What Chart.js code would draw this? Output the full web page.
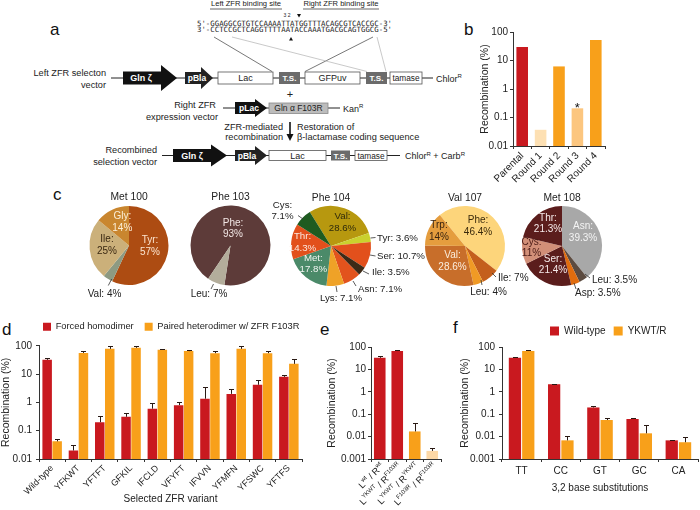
<!DOCTYPE html>
<html>
<head>
<meta charset="utf-8">
<script src="https://cdn.jsdelivr.net/npm/chart.js@4.4.1/dist/chart.umd.min.js"></script>
<style>
html,body{margin:0;padding:0;background:#fff;}
#root{position:relative;width:700px;height:510px;overflow:hidden;background:#fff;}
#root canvas{position:absolute;}
#schem{position:absolute;left:0;top:0;}
</style>
</head>
<body>
<div id="root">
<svg id="schem" width="700" height="510" font-family="'Liberation Sans', Arial, Helvetica, sans-serif">
  <g font-size="17" fill="#111">
    <text x="50" y="35">a</text><text x="464" y="35">b</text><text x="53" y="200">c</text>
    <text x="2" y="335">d</text><text x="320" y="335">e</text><text x="453" y="333">f</text>
  </g>
  <!-- binding sites -->
  <g font-size="7.6" fill="#222" text-anchor="middle">
    <text x="246" y="6">Left ZFR binding site</text>
    <text x="341" y="6">Right ZFR binding site</text>
  </g>
  <line x1="210" y1="9" x2="282" y2="9" stroke="#9a9a9a" stroke-width="1.5"/>
  <line x1="303" y1="9" x2="379" y2="9" stroke="#9a9a9a" stroke-width="1.5"/>
  <text x="283.5" y="17" font-size="5" fill="#222">3 2</text>
  <polygon points="297,14 301,14 299,17.5" fill="#111"/>
  <g font-family="'DejaVu Sans Mono', monospace" font-size="7.3" fill="#222">
    <text x="197" y="25.5" textLength="195" lengthAdjust="spacingAndGlyphs">5'-GGAGGCGTGTCCAAAATTATGGTTTACAGCGTCACCGC-3'</text>
    <text x="197" y="32" textLength="195" lengthAdjust="spacingAndGlyphs">3'-CCTCCGCTCAGGTTTTAATACCAAATGACGCAGTGGCG-5'</text>
  </g>
  <polygon points="289,40.5 293,40.5 291,37" fill="#111"/>
  <line x1="214" y1="37" x2="272" y2="71.5" stroke="#555" stroke-width="0.8"/>
  <line x1="373" y1="37" x2="305" y2="71.5" stroke="#555" stroke-width="0.8"/>
  <line x1="232" y1="37" x2="367" y2="71.5" stroke="#bbb" stroke-width="0.8"/>
  <line x1="377" y1="37" x2="386" y2="71.5" stroke="#bbb" stroke-width="0.8"/>

  <!-- vector 1 -->
  <g font-size="9.2" fill="#222">
    <text x="106" y="76.3" text-anchor="end">Left ZFR selecton</text>
    <text x="106" y="87.5" text-anchor="end">vector</text>
  </g>
  <line x1="111" y1="78" x2="433" y2="78" stroke="#222" stroke-width="1"/>
  <polygon points="123,71.5 161,71.5 161,65 177,78 161,91 161,84.5 123,84.5" fill="#111"/>
  <polygon points="185,72 201,72 201,67 213,78 201,89 201,84 185,84" fill="#222"/>
  <rect x="218" y="72" width="55" height="12" fill="#fff" stroke="#555" stroke-width="0.8"/>
  <rect x="279" y="72" width="21" height="12" fill="#6b6b6b"/>
  <rect x="305" y="72" width="55" height="12" fill="#fff" stroke="#555" stroke-width="0.8"/>
  <rect x="366" y="72" width="21" height="12" fill="#6b6b6b"/>
  <rect x="390" y="72" width="32" height="12" fill="#fff" stroke="#555" stroke-width="0.8"/>
  <g text-anchor="middle" font-size="9">
    <text x="141" y="81.3" fill="#fff" font-weight="bold">Gln ζ</text>
    <text x="197" y="81.3" fill="#fff" font-weight="bold" font-size="8.5">pBla</text>
    <text x="245.5" y="81.3" fill="#222">Lac</text>
    <text x="289.5" y="81" fill="#fff" font-weight="bold" font-size="8">T.S.</text>
    <text x="332.5" y="81.3" fill="#222">GFPuv</text>
    <text x="376.5" y="81" fill="#fff" font-weight="bold" font-size="8">T.S.</text>
    <text x="406" y="81" fill="#222" font-size="8.3">tamase</text>
  </g>
  <text x="436" y="81.5" font-size="9" fill="#222">Chlor<tspan font-size="6" dy="-3.5">R</tspan></text>
  <text x="290" y="98" font-size="11" fill="#222" text-anchor="middle">+</text>

  <!-- vector 2 -->
  <g font-size="9.2" fill="#222" text-anchor="end">
    <text x="216" y="107.5">Right ZFR</text>
    <text x="218" y="119.5">expression vector</text>
  </g>
  <line x1="223" y1="108" x2="340" y2="108" stroke="#222" stroke-width="1"/>
  <polygon points="235,102 255,102 255,99 267,108 255,117 255,114 235,114" fill="#111"/>
  <rect x="269" y="103" width="59" height="10.5" fill="#bcbcbc" stroke="#888" stroke-width="0.8"/>
  <text x="249" y="111.2" fill="#fff" font-weight="bold" font-size="8.5" text-anchor="middle">pLac</text>
  <text x="298.5" y="111.3" fill="#222" font-size="8.5" text-anchor="middle">Gln α F103R</text>
  <text x="343" y="111.5" font-size="9" fill="#222">Kan<tspan font-size="6" dy="-3.5">R</tspan></text>

  <!-- arrow -->
  <line x1="290" y1="122" x2="290" y2="135" stroke="#111" stroke-width="1.6"/>
  <polygon points="286.5,134 293.5,134 290,141" fill="#111"/>
  <g font-size="9.2" fill="#222">
    <text x="283" y="129.5" text-anchor="end">ZFR-mediated</text>
    <text x="283" y="139.5" text-anchor="end">recombination</text>
    <text x="297" y="129.5">Restoration of</text>
    <text x="297" y="139.5">β-lactamase coding sequence</text>
  </g>

  <!-- vector 3 -->
  <g font-size="9.2" fill="#222" text-anchor="end">
    <text x="157" y="153">Recombined</text>
    <text x="157" y="165">selection vector</text>
  </g>
  <line x1="162" y1="155.5" x2="400" y2="155.5" stroke="#222" stroke-width="1"/>
  <polygon points="173,149 211,149 211,144.5 227,155.5 211,166.5 211,162 173,162" fill="#111"/>
  <polygon points="235,150 255,150 255,146 267,155.5 255,165 255,161 235,161" fill="#222"/>
  <rect x="269" y="150.5" width="57" height="10" fill="#fff" stroke="#555" stroke-width="0.8"/>
  <rect x="331" y="150.5" width="19" height="10" fill="#6b6b6b"/>
  <rect x="355" y="150.5" width="32" height="10" fill="#fff" stroke="#555" stroke-width="0.8"/>
  <g text-anchor="middle" font-size="9">
    <text x="192" y="158.8" fill="#fff" font-weight="bold">Gln ζ</text>
    <text x="247" y="158.6" fill="#fff" font-weight="bold" font-size="8.5">pBla</text>
    <text x="297.5" y="158.8" fill="#222">Lac</text>
    <text x="340.5" y="158.5" fill="#fff" font-weight="bold" font-size="8">T.S.</text>
    <text x="371" y="158.5" fill="#222" font-size="8.3">tamase</text>
  </g>
  <text x="405" y="159" font-size="9" fill="#222">Chlor<tspan font-size="6" dy="-3.5">R</tspan><tspan dy="3.5"> + Carb</tspan><tspan font-size="6" dy="-3.5">R</tspan></text>
</svg>
</div>

<script>
// ---------------- DATA ----------------
// Panel b
const bCategories = ['Parental', 'Round 1', 'Round 2', 'Round 3', 'Round 4'];
const bValues = [30, 0.037, 6.2, 0.21, 52];
const bMarks = ['', '', '', '*', ''];

// Shared log tick values
const ticks4 = [0.01, 0.1, 1, 10, 100];
const ticks5 = [0.001, 0.01, 0.1, 1, 10, 100];

// Panel c (pie charts)
const met100Cats = ['Tyr', 'Val', 'Ile', 'Gly'];
const met100Vals = [57, 4, 25, 14];
const phe103Cats = ['Phe', 'Leu'];
const phe103Vals = [93, 7];
const phe104Cats = ['Val', 'Tyr', 'Ser', 'Ile', 'Asn', 'Lys', 'Met', 'Thr', 'Cys'];
const phe104Vals = [28.6, 3.6, 10.7, 3.5, 7.1, 7.1, 17.8, 14.3, 7.1];
const val107Cats = ['Phe', 'Ile', 'Leu', 'Val', 'Trp'];
const val107Vals = [46.4, 7, 4, 28.6, 14];
const met108Cats = ['Asn', 'Leu', 'Asp', 'Ser', 'Cys', 'Thr'];
const met108Vals = [39.3, 3.5, 3.5, 21.4, 11, 21.3];

// Panel d
const dVariants = ['Wild-type', 'YFKWT', 'YFTFT', 'GFKIL', 'IFCLD', 'VFYFT', 'IFVVN', 'YFMFN', 'YFSWC', 'YFTFS'];
const dHomodimer = [32, 0.02, 0.2, 0.31, 0.6, 0.8, 1.35, 2.0, 4.2, 8.0];
const dHomodimerErrTop = [37, 0.03, 0.32, 0.43, 0.95, 1.0, 3.5, 2.9, 6.3, 9.5];
const dHeterodimer = [0.042, 56, 78, 85, 72, 65, 55, 78, 55, 23];
const dHeterodimerErrTop = [0.05, 63, 100, 98, 75, 74, 65, 100, 65, 35];

// Panel e
const ePairs = ['L^wt / R^wt', 'L^YKWT / R^F103R', 'L^YKWT / R^YKWT', 'L^F103R / R^F103R'];
const eValues = [33, 66, 0.017, 0.0023];
const eErrTop = [38, 71, 0.039, 0.0031];

// Panel f
const fSubs = ['TT', 'CC', 'GT', 'GC', 'CA'];
const fWild = [33, 2.15, 0.2, 0.061, 0.0068];
const fWildErrTop = [35, 2.3, 0.23, 0.066, 0.007];
const fYKWT = [66, 0.0068, 0.055, 0.014, 0.0056];
const fYKWTErrTop = [74, 0.011, 0.066, 0.033, 0.0093];

// ---------------- STYLE ----------------
const FONT = '"Liberation Sans", Arial, Helvetica, sans-serif';
Chart.defaults.font.family = FONT;
Chart.defaults.color = '#222';
const RED = '#c9191f', ORANGE = '#f8a01a', LIGHT_OR = '#fcc67f', PALE_OR = '#fde0b3', PEACH = '#fdd8a6', AXIS = '#333';

function makeCanvas(left, top, w, h) {
  const c = document.createElement('canvas');
  c.width = w; c.height = h;
  c.style.left = left + 'px'; c.style.top = top + 'px';
  c.style.width = w + 'px'; c.style.height = h + 'px';
  document.getElementById('root').appendChild(c);
  return c;
}

// ---------------- PLUGINS ----------------
const errorBars = {
  id: 'errorBars',
  afterDatasetsDraw(chart) {
    const ctx = chart.ctx, ys = chart.scales.y;
    chart.data.datasets.forEach((ds, di) => {
      if (!ds.errTop) return;
      chart.getDatasetMeta(di).data.forEach((bar, i) => {
        const v = ds.errTop[i];
        if (v == null) return;
        const yt = Math.round(ys.getPixelForValue(v)) + 0.5;
        const x = Math.round(bar.x) + 0.5;
        ctx.save();
        ctx.strokeStyle = '#2a1a14'; ctx.lineWidth = 1;
        ctx.beginPath();
        ctx.moveTo(x, bar.y); ctx.lineTo(x, yt);
        ctx.moveTo(x - 2.5, yt); ctx.lineTo(x + 2.5, yt);
        ctx.stroke();
        ctx.restore();
      });
    });
  }
};

const barMarks = {
  id: 'barMarks',
  afterDatasetsDraw(chart, args, o) {
    if (!o || !o.marks) return;
    const ctx = chart.ctx;
    ctx.save();
    ctx.font = '13px ' + FONT; ctx.fillStyle = '#111'; ctx.textAlign = 'center'; ctx.textBaseline = 'alphabetic';
    chart.getDatasetMeta(0).data.forEach((bar, i) => {
      if (o.marks[i]) ctx.fillText(o.marks[i], bar.x, bar.y + 3.5);
    });
    ctx.restore();
  }
};

const legendShift = {
  id: 'legendShift',
  afterLayout(chart, args, o) {
    const lg = chart.legend;
    if (!lg || !o) return;
    lg.left += o.dx || 0; lg.right += o.dx || 0;
    lg.top += o.dy || 0; lg.bottom += o.dy || 0;
  }
};

function parseSup(s) {
  const out = []; const re = /\^([A-Za-z0-9]+)/g; let last = 0, m;
  while ((m = re.exec(s))) {
    if (m.index > last) out.push({ t: s.slice(last, m.index), sup: false });
    out.push({ t: m[1], sup: true });
    last = re.lastIndex;
  }
  if (last < s.length) out.push({ t: s.slice(last), sup: false });
  return out;
}

const supLabels = {
  id: 'supLabels',
  afterDraw(chart, args, o) {
    if (!o || !o.on) return;
    const xs = chart.scales.x, ctx = chart.ctx;
    chart.data.labels.forEach((lab, i) => {
      const px = xs.getPixelForTick(i);
      const parts = parseSup(lab);
      ctx.save();
      ctx.translate(px + o.dx, xs.top + o.dy);
      ctx.rotate(-Math.PI / 4);
      ctx.textBaseline = 'middle'; ctx.textAlign = 'left'; ctx.fillStyle = '#222';
      const nf = o.size + 'px ' + FONT, sf = o.supSize + 'px ' + FONT;
      let total = 0;
      parts.forEach(p => { ctx.font = p.sup ? sf : nf; p.w = ctx.measureText(p.t).width; total += p.w; });
      let cx = -total;
      parts.forEach(p => { ctx.font = p.sup ? sf : nf; ctx.fillText(p.t, cx, p.sup ? -3.4 : 0); cx += p.w; });
      ctx.restore();
    });
  }
};

const pieText = {
  id: 'pieText',
  afterDraw(chart, args, o) {
    const ctx = chart.ctx;
    const arc = chart.getDatasetMeta(0).data[0];
    const cx = arc.x, cy = arc.y;
    const cats = chart.data.labels, vals = chart.data.datasets[0].data;
    ctx.save();
    ctx.textBaseline = 'middle';
    ctx.font = '10.3px ' + FONT; ctx.fillStyle = '#222'; ctx.textAlign = 'center';
    ctx.fillText(o.title, cx, cy + o.titleDy);
    o.specs.forEach((s, i) => {
      const lines = s.split ? [cats[i] + ':', vals[i] + '%'] : [cats[i] + ': ' + vals[i] + '%'];
      ctx.font = o.fontSize + 'px ' + FONT;
      ctx.fillStyle = s.color || '#222';
      ctx.textAlign = s.align || 'center';
      lines.forEach((t, k) => ctx.fillText(t, cx + s.x, cy + s.y + k * (s.gap || 11.5)));
      if (s.lead) {
        ctx.strokeStyle = '#333'; ctx.lineWidth = 0.8;
        ctx.beginPath();
        ctx.moveTo(cx + s.lead[0], cy + s.lead[1]);
        ctx.lineTo(cx + s.lead[2], cy + s.lead[3]);
        ctx.stroke();
      }
    });
    ctx.restore();
  }
};

// ---------------- BAR CHART FACTORY ----------------
function logBar(canvas, g, labels, datasets, yTicks, pluginOpts) {
  return new Chart(canvas, {
    type: 'bar',
    data: { labels, datasets },
    options: {
      responsive: false, animation: false, events: [],
      layout: { padding: { left: 0, top: g.padTop, right: g.padRight, bottom: 0 } },
      plugins: Object.assign({ legend: { display: false }, tooltip: { enabled: false } }, pluginOpts || {}),
      scales: {
        x: {
          offset: true,
          grid: { display: true, drawOnChartArea: false, tickLength: 3, color: AXIS, offset: true },
          border: { display: true, color: AXIS, width: 1 },
          ticks: g.xTicks,
          title: g.xTitle || { display: false },
          afterFit: s => { s.height = g.xh; }
        },
        y: {
          type: 'logarithmic', min: yTicks[0], max: yTicks[yTicks.length - 1],
          grid: { display: true, drawOnChartArea: false, tickLength: 3, color: AXIS },
          border: { display: true, color: AXIS, width: 1 },
          afterBuildTicks: s => { s.ticks = yTicks.map(v => ({ value: v })); },
          ticks: { padding: g.yTickPad, font: { size: 10 }, color: '#222', callback: v => String(v) },
          title: { display: true, text: 'Recombination (%)', font: { size: 10.5 }, color: '#222', padding: { top: g.yTitlePad, bottom: 0 } },
          afterFit: s => { s.width = g.yw; }
        }
      }
    },
    plugins: [errorBars, barMarks, legendShift, supLabels]
  });
}

// ---------------- PANEL b ----------------
logBar(makeCanvas(476, 20, 224, 180),
  { padTop: 12, padRight: 95, xh: 54, yw: 37, yTickPad: 2, yTitlePad: 2.7,
    xTicks: { minRotation: 45, maxRotation: 45, autoSkip: false, padding: 1, font: { size: 10 }, color: '#222' } },
  bCategories,
  [{ data: bValues, backgroundColor: [RED, PALE_OR, ORANGE, LIGHT_OR, ORANGE], borderWidth: 0,
     barPercentage: 0.9, categoryPercentage: 0.7 }],
  ticks4, { barMarks: { marks: bMarks } });

// ---------------- PANEL d ----------------
logBar(makeCanvas(0, 315, 312, 195),
  { padTop: 0.5, padRight: 10, xh: 51, yw: 39, yTickPad: 4, yTitlePad: 0,
    xTicks: { minRotation: 45, maxRotation: 45, autoSkip: false, padding: 1, font: { size: 9 }, color: '#222' },
    xTitle: { display: true, text: 'Selected ZFR variant', font: { size: 10 }, color: '#222', padding: { top: 0, bottom: 5 } } },
  dVariants,
  [{ label: 'Forced homodimer', data: dHomodimer, errTop: dHomodimerErrTop, backgroundColor: RED, borderWidth: 0,
     barPercentage: 0.95, categoryPercentage: 0.76 },
   { label: 'Paired heterodimer w/ ZFR F103R', data: dHeterodimer, errTop: dHeterodimerErrTop, backgroundColor: ORANGE, borderWidth: 0,
     barPercentage: 0.95, categoryPercentage: 0.76 }],
  ticks4,
  { legend: { display: true, position: 'top', align: 'start',
      labels: { boxWidth: 8, boxHeight: 8, padding: 11, font: { size: 9.3 }, color: '#222' } },
    legendShift: { dx: 32, dy: -4.5 } });

// ---------------- PANEL e ----------------
logBar(makeCanvas(318, 315, 130, 195),
  { padTop: 32, padRight: 7, xh: 51, yw: 53, yTickPad: 2, yTitlePad: 7.7,
    xTicks: { display: false } },
  ePairs,
  [{ data: eValues, errTop: eErrTop, backgroundColor: [RED, RED, ORANGE, PEACH], borderWidth: 0,
     barPercentage: 0.92, categoryPercentage: 0.72 }],
  ticks5, { supLabels: { on: true, dx: 3, dy: 6, size: 9.2, supSize: 6 } });

// ---------------- PANEL f ----------------
logBar(makeCanvas(452, 315, 248, 195),
  { padTop: 4, padRight: 2, xh: 51, yw: 50, yTickPad: 4, yTitlePad: 6.7,
    xTicks: { maxRotation: 0, autoSkip: false, padding: 3, font: { size: 10 }, color: '#222' },
    xTitle: { display: true, text: '3,2 base substitutions', font: { size: 10 }, color: '#222', padding: { top: 0, bottom: 16 } } },
  fSubs,
  [{ label: 'Wild-type', data: fWild, errTop: fWildErrTop, backgroundColor: RED, borderWidth: 0,
     barPercentage: 0.92, categoryPercentage: 0.68 },
   { label: 'YKWT/R', data: fYKWT, errTop: fYKWTErrTop, backgroundColor: ORANGE, borderWidth: 0,
     barPercentage: 0.92, categoryPercentage: 0.68 }],
  ticks5,
  { legend: { display: true, position: 'top', align: 'start',
      labels: { boxWidth: 9, boxHeight: 9, padding: 8, font: { size: 10 }, color: '#222' } },
    legendShift: { dx: 90, dy: -1 } });

// ---------------- PANEL c (pies) ----------------
function pie(cx, cy, r, title, cats, vals, colors, rotation, specs, fontSize) {
  const W = 200, H = 124, top = 186, left = Math.round(cx - 100);
  const ox = cx - left, oy = cy - top;
  new Chart(makeCanvas(left, top, W, H), {
    type: 'pie',
    data: { labels: cats, datasets: [{ data: vals, backgroundColor: colors, borderWidth: 0, rotation }] },
    options: {
      responsive: false, animation: false, events: [], rotation,
      layout: { padding: { left: ox - r, right: W - ox - r, top: oy - r, bottom: H - oy - r } },
      plugins: { legend: { display: false }, tooltip: { enabled: false },
        pieText: { title, titleDy: -48, specs, fontSize } }
    },
    plugins: [pieText]
  });
}

pie(129, 245.5, 39.5, 'Met 100', met100Cats, met100Vals,
  ['#ad4c12', '#8d9a82', '#cbb07a', '#c9862f'], 0,
  [{ split: 1, x: 21, y: -5.7, gap: 12.4, color: '#fbe4cf' },
   { x: -24.5, y: 49, lead: [-17.3, 33.5, -20.7, 40] },
   { split: 1, x: -22, y: -6.7, gap: 12.4, color: '#3a2812' },
   { split: 1, x: -6.7, y: -29, gap: 11.3, color: '#fbeed6' }], 10);

pie(230.5, 245.5, 40, 'Phe 103', phe103Cats, phe103Vals,
  ['#5d3b39', '#b3ad9b'], 214,
  [{ split: 1, x: 2.5, y: -22.2, gap: 11, color: '#f2e6e4' },
   { x: -21.5, y: 48.5, lead: [-17, 38.5, -19.5, 43.5] }], 10);

pie(331, 246, 40, 'Phe 104', phe104Cats, phe104Vals,
  ['#b7980f', '#cad12e', '#e2501c', '#3d2a17', '#e2531d', '#efa227', '#4b8a69', '#e2501c', '#1e5b20'], -32,
  [{ split: 1, x: 11.5, y: -30, gap: 12, color: '#2e2a0c' },
   { x: 46, y: -8, align: 'left', lead: [39.5, -8, 44.5, -8.5] },
   { x: 46, y: 10, align: 'left', lead: [39, 9, 44.5, 10] },
   { x: 41, y: 26, align: 'left', lead: [32, 25, 38, 28] },
   { x: 27, y: 43, align: 'left', lead: [22, 35, 25, 40] },
   { x: 10, y: 52, lead: [5, 40, 6, 46] },
   { split: 1, x: -17.7, y: 12, gap: 11.7, color: '#f0f4f0' },
   { split: 1, x: -28.5, y: -10, gap: 12, color: '#fbe8e0' },
   { split: 1, x: -48.5, y: -41, gap: 11, lead: [-33, -30.5, -28, -27] }], 9.7);

pie(465, 246, 40, 'Val 107', val107Cats, val107Vals,
  ['#fdd57b', '#c45f1d', '#f09a25', '#c86e2a', '#e59d3e'], -39,
  [{ split: 1, x: 13, y: -26, gap: 12, color: '#3a2a0c' },
   { x: 33, y: 32, align: 'left', lead: [27, 27, 31, 31] },
   { x: 23.5, y: 46, lead: [16, 34, 17, 39] },
   { split: 1, x: -12.5, y: 9, gap: 12, color: '#fbeede' },
   { split: 1, x: -26, y: -21, gap: 12, color: '#3a2410' }], 10);

pie(562, 246, 40, 'Met 108', met108Cats, met108Vals,
  ['#a8a8a8', '#5c4b40', '#e06c0e', '#5b1d1c', '#d28f78', '#5b1d1c'], 0,
  [{ split: 1, x: 21, y: -20, gap: 12, color: '#f4f4f4' },
   { x: 30, y: 34, align: 'left', lead: [23, 28, 28, 32] },
   { x: 13, y: 47, align: 'left', lead: [12, 37, 14, 43] },
   { split: 1, x: -9, y: 13, gap: 11, color: '#f6eaea' },
   { split: 1, x: -30.5, y: -4, gap: 11, color: '#4a1a16' },
   { split: 1, x: -14, y: -28, gap: 11, color: '#f6eaea' }], 10);
</script>
</body>
</html>
